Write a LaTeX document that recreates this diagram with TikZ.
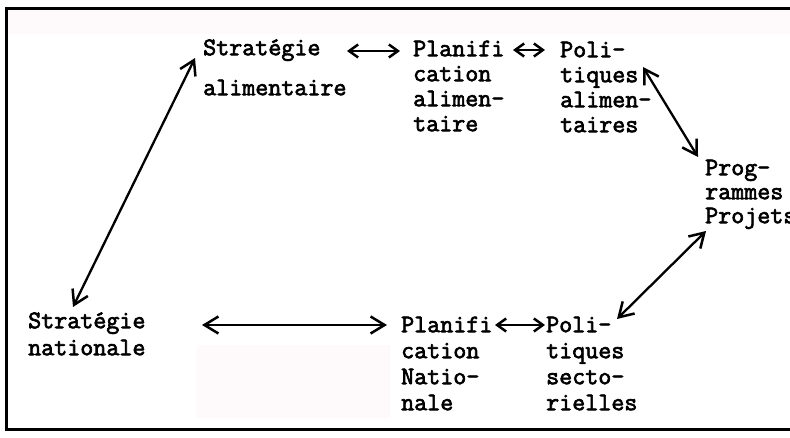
\documentclass[tikz,border=0pt]{standalone}
\usepackage{fontspec}
\newfontfamily\twfont[FakeBold=2.6]{Latin Modern Mono}
\usetikzlibrary{arrows.meta,calc}
\definecolor{tint}{HTML}{FEF9FA}
\tikzset{
  lbl/.style={anchor=north west, inner sep=0pt, align=left,
    font=\twfont\fontsize{25.3}{25}\selectfont},
  lblb/.style={lbl, font=\twfont\fontsize{25.3}{26}\selectfont},
  dbl/.style={line width=2.3pt, {Straight Barb[length=9pt,width=13pt,line width=2.5pt]}-{Straight Barb[length=9pt,width=13pt,line width=2.5pt]}},
  dblbig/.style={line width=2.3pt, {Straight Barb[length=14pt,width=17pt,line width=2.5pt]}-{Straight Barb[length=14pt,width=17pt,line width=2.5pt]}},
}
\newcommand{\fl}{\rule{0pt}{18pt}}
\begin{document}
\begin{tikzpicture}[x=1pt,y=-1pt]
\useasboundingbox (0,0) rectangle (790,438);
\fill[white] (0,0) rectangle (790,438);
\fill[tint] (7,10) rectangle (790,34);
\fill[tint] (197,345) rectangle (390,418);
\draw[line width=3pt] (790,9) -- (6.5,9) -- (6.5,429) -- (790,429);

\node[lbl] (stratalim) at (203,37) {\fl Stratégie\\[15pt]alimentaire};
\node[lbl] (planalim) at (413,38) {\fl Planifi\\cation\\alimen-\\taire};
\node[lbl] (polialim) at (560,39) {\fl Poli-\\tiques\\alimen-\\taires};
\node[lbl, font=\twfont\fontsize{25.3}{24}\selectfont] (prog) at (705,157) {\fl Prog-\\rammes\\Projets};
\node[lbl] (stratnat) at (28,310) {\fl Stratégie\\[2pt]nationale};
\node[lblb] (plannat) at (401,314) {\fl Planifi\\cation\\Natio-\\nale};
\node[lblb] (polisect) at (546,314) {\fl Poli-\\tiques\\secto-\\rielles};

\draw[dbl] ($(stratalim.north west)+(144,14)$) -- ($(planalim.north west)+(-13,13)$);
\draw[dbl] ($(planalim.north west)+(100,12)$) -- ($(polialim.north west)+(-15,11)$);
\draw[dblbig] ($(polialim.north west)+(83,28)$) -- ($(prog.north west)+(-7,0)$);
\draw[dblbig] ($(stratalim.north west)+(-8,21)$) -- ($(stratnat.north west)+(45,-3)$);
\draw[dblbig] ($(stratnat.north west)+(174,15)$) -- ($(plannat.north west)+(-14,11)$);
\draw[dbl] ($(plannat.north west)+(94,11)$) -- ($(polisect.north west)+(-1,11)$);
\draw[dblbig] ($(polisect.north west)+(71,5)$) -- ($(prog.north west)+(1,74)$);
\end{tikzpicture}
\end{document}
